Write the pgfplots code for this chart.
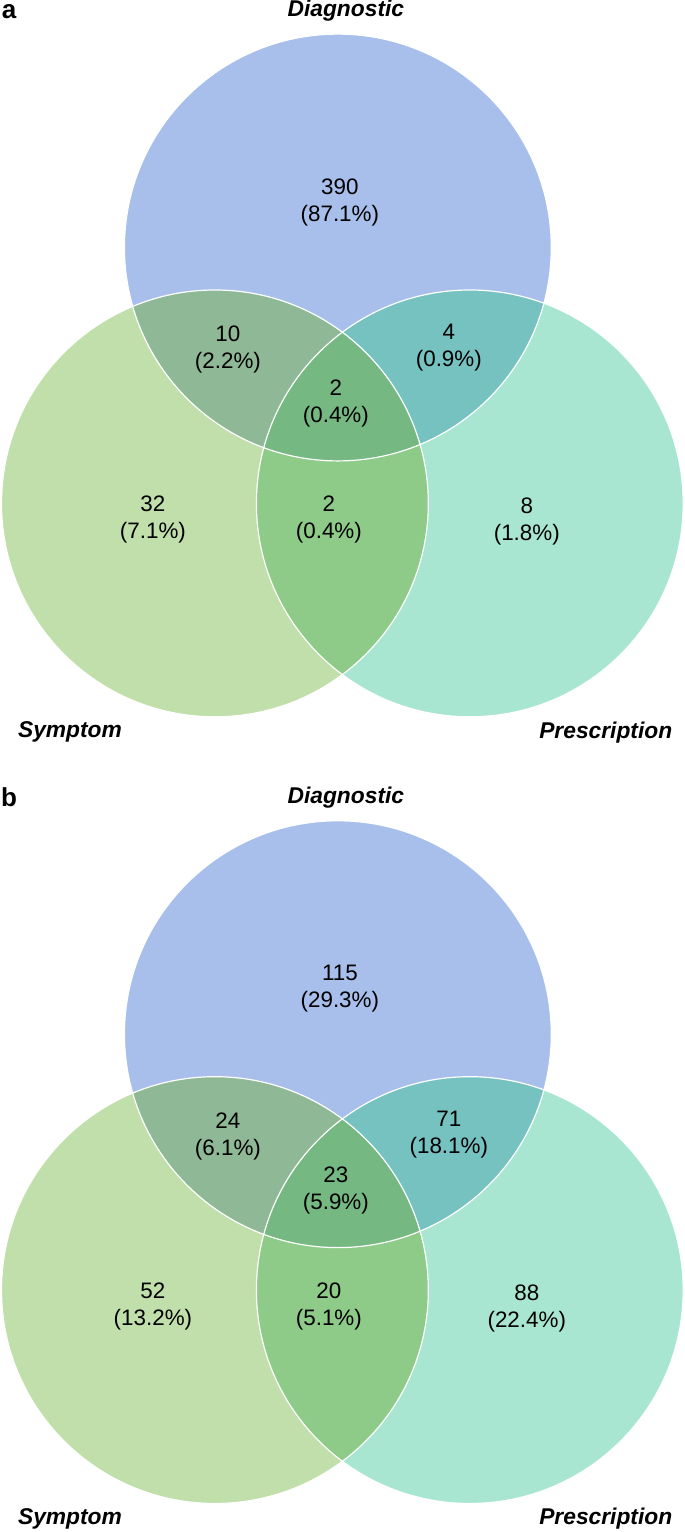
\documentclass[border=0pt]{standalone}
\usepackage{fontspec}
\setmainfont{Liberation Sans}
\usepackage{pgfplots}
\pgfplotsset{compat=1.18}
\definecolor{cD}{HTML}{A7BFEA}
\definecolor{cS}{HTML}{C0DFAA}
\definecolor{cP}{HTML}{A8E6D2}
\definecolor{cDS}{HTML}{8FB996}
\definecolor{cDP}{HTML}{76C2C1}
\definecolor{cSP}{HTML}{8ECB88}
\definecolor{cDSP}{HTML}{76B882}
\newcommand{\venn}[3]{% #1 = y of D centre, #2 = y of S/P centres
  \fill[cD] (axis cs:338,#1) circle[radius=213.5];
  \fill[cS] (axis cs:215,#2) circle[radius=213.5];
  \fill[cP] (axis cs:470,#2) circle[radius=213.5];
  \begin{scope}\clip (axis cs:338,#1) circle[radius=213.5];
    \fill[cDS] (axis cs:215,#2) circle[radius=213.5];
    \fill[cDP] (axis cs:470,#2) circle[radius=213.5];
  \end{scope}
  \begin{scope}\clip (axis cs:215,#2) circle[radius=213.5];
    \fill[cSP] (axis cs:470,#2) circle[radius=213.5];
    \clip (axis cs:470,#2) circle[radius=213.5];
    \fill[cDSP] (axis cs:338,#1) circle[radius=213.5];
  \end{scope}
  \draw[white, line width=0.6pt] (axis cs:338,#1) circle[radius=213.5];
  \draw[white, line width=0.6pt] (axis cs:215,#2) circle[radius=213.5];
  \draw[white, line width=0.6pt] (axis cs:470,#2) circle[radius=213.5];
}
\begin{document}
\begin{tikzpicture}
\begin{axis}[
  width=342.5pt, height=766pt, scale only axis,
  xmin=0, xmax=685, ymin=0, ymax=1532,
  hide axis, clip=false,
]
\path (axis cs:0,0) rectangle (axis cs:685,1532);
\venn{1285}{1029}{}
\venn{498}{242}{}
\tikzset{num/.style={align=center, font=\fontsize{11.2}{13.5}\selectfont, text=black, inner sep=0pt},
         lab/.style={font=\fontsize{11.4}{13}\selectfont\bfseries\itshape, inner sep=0pt},
         pan/.style={font=\fontsize{13}{14}\selectfont\bfseries, inner sep=0pt}}
% panel a
\node[pan] at (axis cs:9,1521) {a};
\node[lab] at (axis cs:346,1522) {Diagnostic};
\node[lab] at (axis cs:70,800) {Symptom};
\node[lab] at (axis cs:606,800) {Prescription};
\node[num] at (axis cs:340,1330.5) {390\\(87.1\%)};
\node[num] at (axis cs:228,1182.5) {10\\(2.2\%)};
\node[num] at (axis cs:449,1185) {4\\(0.9\%)};
\node[num] at (axis cs:336,1129) {2\\(0.4\%)};
\node[num] at (axis cs:153,1012.5) {32\\(7.1\%)};
\node[num] at (axis cs:329,1012.5) {2\\(0.4\%)};
\node[num] at (axis cs:527,1011) {8\\(1.8\%)};
% panel b
\node[pan] at (axis cs:9,735) {b};
\node[lab] at (axis cs:346,735) {Diagnostic};
\node[lab] at (axis cs:70,13) {Symptom};
\node[lab] at (axis cs:606,13) {Prescription};
\node[num] at (axis cs:340,543.5) {115\\(29.3\%)};
\node[num] at (axis cs:228,395.5) {24\\(6.1\%)};
\node[num] at (axis cs:449,398) {71\\(18.1\%)};
\node[num] at (axis cs:336,342) {23\\(5.9\%)};
\node[num] at (axis cs:153,225.5) {52\\(13.2\%)};
\node[num] at (axis cs:329,225.5) {20\\(5.1\%)};
\node[num] at (axis cs:527,224) {88\\(22.4\%)};
\end{axis}
\end{tikzpicture}
\end{document}
